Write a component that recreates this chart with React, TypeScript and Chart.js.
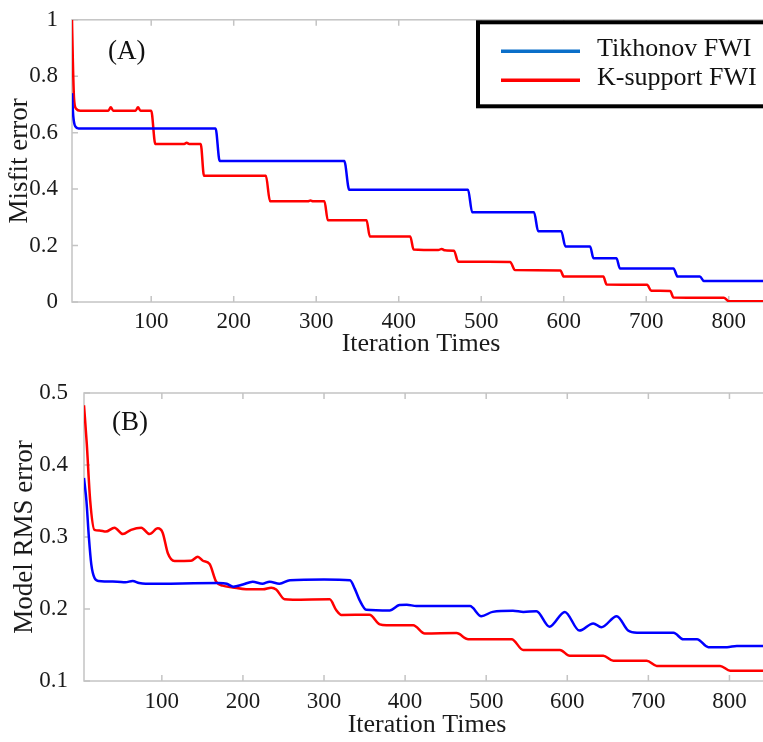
import React, { useEffect, useRef } from 'react';
import { Chart, registerables } from 'chart.js';

Chart.register(...registerables);

// ---------- data ----------
const seriesNames = ['Tikhonov FWI', 'K-support FWI'];
const xTicks = [100, 200, 300, 400, 500, 600, 700, 800];
const yTicksA = [0, 0.2, 0.4, 0.6, 0.8, 1];
const yTicksB = [0.1, 0.2, 0.3, 0.4, 0.5];

// (A) Misfit error
const tikhonovMisfitX = [4, 5.5, 8, 12, 178, 183, 334, 340, 484, 489, 564, 569, 597, 602, 632, 636, 664, 668, 733, 738, 765, 770, 850];
const tikhonovMisfitY = [0.74, 0.66, 0.622, 0.615, 0.615, 0.5, 0.5, 0.398, 0.398, 0.318, 0.318, 0.251, 0.251, 0.197, 0.197, 0.155, 0.155, 0.119, 0.119, 0.09, 0.09, 0.074, 0.074];

const ksupportMisfitX = [4, 5, 6.5, 9, 14, 48, 51, 54, 81, 84, 87, 100, 105, 140, 143, 146, 160, 164, 239, 244, 290, 293, 296, 310, 314, 361, 365, 414, 418, 448, 452, 456, 467, 472, 535, 541, 596, 600, 648, 652, 701, 706, 729, 733, 794, 800, 850];
const ksupportMisfitY = [1.0, 0.86, 0.72, 0.685, 0.678, 0.678, 0.69, 0.678, 0.678, 0.69, 0.678, 0.678, 0.56, 0.56, 0.564, 0.56, 0.56, 0.447, 0.447, 0.357, 0.357, 0.36, 0.357, 0.357, 0.29, 0.29, 0.232, 0.232, 0.186, 0.184, 0.188, 0.183, 0.182, 0.143, 0.142, 0.113, 0.112, 0.09, 0.09, 0.062, 0.061, 0.04, 0.039, 0.016, 0.015, 0.003, 0.003];

// (B) Model RMS error
const tikhonovRmsX = [4, 7, 10, 13, 17, 22, 45, 55, 64, 72, 80, 170, 180, 188, 200, 212, 224, 233, 245, 258, 300, 332, 338, 344, 352, 381, 393, 402, 414, 480, 494, 508, 533, 546, 562, 578, 597, 615, 632, 642, 661, 675, 686, 731, 743, 760, 774, 797, 809, 850];
const tikhonovRmsY = [0.382, 0.35, 0.3, 0.262, 0.243, 0.239, 0.238, 0.237, 0.239, 0.236, 0.235, 0.236, 0.235, 0.231, 0.234, 0.238, 0.235, 0.238, 0.235, 0.24, 0.241, 0.24, 0.228, 0.212, 0.199, 0.198, 0.2055, 0.206, 0.204, 0.204, 0.19, 0.196, 0.1975, 0.196, 0.197, 0.1755, 0.196, 0.17, 0.18, 0.1746, 0.19, 0.17, 0.167, 0.167, 0.158, 0.158, 0.147, 0.147, 0.1486, 0.1486];

const ksupportRmsX = [4, 7.4, 11.6, 16.9, 23, 31, 41.6, 51.9, 62, 74.6, 84.8, 95, 101, 107.4, 115.6, 136, 144.4, 150.6, 158.9, 167, 175, 187.6, 204, 224.7, 235, 241, 251.5, 261.7, 307, 315, 321.4, 356, 368.8, 377, 410, 424.3, 463.4, 477.8, 531.4, 545.7, 591, 603, 644.4, 656.8, 698, 710.3, 788.5, 800.9, 850];
const ksupportRmsY = [0.483, 0.43, 0.351, 0.31, 0.309, 0.3075, 0.313, 0.304, 0.31, 0.313, 0.304, 0.312, 0.306, 0.2774, 0.2667, 0.267, 0.2726, 0.267, 0.2625, 0.238, 0.2324, 0.23, 0.2274, 0.2274, 0.2296, 0.227, 0.2135, 0.213, 0.2135, 0.1986, 0.1917, 0.192, 0.1787, 0.1775, 0.1775, 0.166, 0.1665, 0.158, 0.158, 0.143, 0.143, 0.135, 0.135, 0.128, 0.128, 0.121, 0.121, 0.1143, 0.1143];

const lineColors = ['#0000ff', '#ff0000'];
const legendColors = ['#0b6fc9', '#ff0000'];

const FONT = '"Liberation Serif", "Times New Roman", serif';

// ---------- plugins ----------
const framePlugin = {
  id: 'matlabFrame',
  beforeDatasetsDraw(chart: any) {
    const { ctx, chartArea: a, scales } = chart;
    ctx.save();
    ctx.strokeStyle = '#c4c4c4';
    ctx.lineWidth = 1.5;
    ctx.strokeRect(a.left, a.top, a.right - a.left, a.bottom - a.top);
    const L = 6;
    ctx.beginPath();
    scales.x.ticks.forEach((t: any) => {
      const px = scales.x.getPixelForValue(t.value);
      ctx.moveTo(px, a.bottom);
      ctx.lineTo(px, a.bottom - L);
      ctx.moveTo(px, a.top);
      ctx.lineTo(px, a.top + L);
    });
    scales.y.ticks.forEach((t: any) => {
      const py = scales.y.getPixelForValue(t.value);
      ctx.moveTo(a.left, py);
      ctx.lineTo(a.left + L, py);
      ctx.moveTo(a.right, py);
      ctx.lineTo(a.right - L, py);
    });
    ctx.stroke();
    ctx.restore();
  },
};

function makePanelLabel(text: string, dx: number, dy: number) {
  return {
    id: 'panelLabel',
    afterDatasetsDraw(chart: any) {
      const { ctx, chartArea: a } = chart;
      ctx.save();
      ctx.fillStyle = '#111';
      ctx.font = `27px ${FONT}`;
      ctx.textAlign = 'left';
      ctx.textBaseline = 'middle';
      ctx.fillText(text, a.left + dx, a.top + dy);
      ctx.restore();
    },
  };
}

const boxLegendPlugin = {
  id: 'boxLegend',
  afterDatasetsDraw(chart: any) {
    const { ctx, chartArea: a } = chart;
    const left = 478;
    const top = a.top + 2.5;
    ctx.save();
    ctx.fillStyle = '#ffffff';
    ctx.fillRect(left, top, 340, 84);
    ctx.strokeStyle = '#000';
    ctx.lineWidth = 4;
    ctx.strokeRect(left, top, 340, 84);
    chart.data.datasets.forEach((ds: any, i: number) => {
      const y = top + 29 + i * 29;
      ctx.strokeStyle = legendColors[i];
      ctx.lineWidth = 3.5;
      ctx.beginPath();
      ctx.moveTo(left + 23, y);
      ctx.lineTo(left + 102, y);
      ctx.stroke();
      ctx.fillStyle = '#111';
      ctx.font = `26px ${FONT}`;
      ctx.textAlign = 'left';
      ctx.textBaseline = 'middle';
      ctx.fillText(ds.label, left + 119, y - 2);
    });
    ctx.restore();
  },
};

type PanelOpts = {
  xs: number[][];
  ys: number[][];
  yMin: number;
  yMax: number;
  yTicks: number[];
  yTitle: string;
  yWidth: number;
  xHeight: number;
  top: number;
  xTickPad: number;
  yTickPad: number;
  yTitlePad: number;
  xTitlePadBottom: number;
  plugins: any[];
};

function makeConfig(p: PanelOpts): any {
  return {
    type: 'line',
    data: {
      datasets: p.xs.map((xArr, i) => ({
        label: seriesNames[i],
        data: xArr.map((x, j) => ({ x, y: p.ys[i][j] })),
        borderColor: lineColors[i],
        backgroundColor: lineColors[i],
        borderWidth: 2.5,
        pointRadius: 0,
        cubicInterpolationMode: 'monotone',
        fill: false,
      })),
    },
    options: {
      animation: false,
      responsive: false,
      events: [],
      layout: { padding: { top: p.top, left: 0, right: 10, bottom: 0 } },
      plugins: { legend: { display: false }, tooltip: { enabled: false }, title: { display: false } },
      scales: {
        x: {
          type: 'linear',
          min: 4,
          max: 850,
          grid: { display: false },
          border: { display: false },
          afterBuildTicks: (scale: any) => {
            scale.ticks = xTicks.map((v) => ({ value: v }));
          },
          afterFit: (scale: any) => {
            scale.height = p.xHeight;
          },
          ticks: {
            padding: p.xTickPad,
            maxRotation: 0,
            autoSkip: false,
            color: '#1a1a1a',
            font: { family: FONT, size: 23 },
            callback: (v: any) => String(v),
          },
          title: {
            display: true,
            text: 'Iteration Times',
            color: '#1a1a1a',
            font: { family: FONT, size: 26 },
            padding: { top: 0, bottom: p.xTitlePadBottom },
          },
        },
        y: {
          type: 'linear',
          min: p.yMin,
          max: p.yMax,
          grid: { display: false },
          border: { display: false },
          afterBuildTicks: (scale: any) => {
            scale.ticks = p.yTicks.map((v) => ({ value: v }));
          },
          afterFit: (scale: any) => {
            scale.width = p.yWidth;
          },
          ticks: {
            padding: p.yTickPad,
            autoSkip: false,
            color: '#1a1a1a',
            font: { family: FONT, size: 23 },
            callback: (v: any) => String(Math.round(Number(v) * 10) / 10),
          },
          title: {
            display: true,
            text: p.yTitle,
            color: '#1a1a1a',
            font: { family: FONT, size: 27 },
            padding: { top: p.yTitlePad, bottom: 0 },
          },
        },
      },
    },
    plugins: p.plugins,
  };
}

export default function App() {
  const refA = useRef<HTMLCanvasElement>(null);
  const refB = useRef<HTMLCanvasElement>(null);

  useEffect(() => {
    const chartA = new Chart(
      refA.current as HTMLCanvasElement,
      makeConfig({
        xs: [tikhonovMisfitX, ksupportMisfitX],
        ys: [tikhonovMisfitY, ksupportMisfitY],
        yMin: 0,
        yMax: 1,
        yTicks: yTicksA,
        yTitle: 'Misfit error',
        yWidth: 72,
        xHeight: 58,
        top: 13,
        xTickPad: -2,
        yTickPad: 6,
        yTitlePad: 4,
        xTitlePadBottom: 0,
        plugins: [framePlugin, makePanelLabel('(A)', 36, 32), boxLegendPlugin],
      })
    );
    const chartB = new Chart(
      refB.current as HTMLCanvasElement,
      makeConfig({
        xs: [tikhonovRmsX, ksupportRmsX],
        ys: [tikhonovRmsY, ksupportRmsY],
        yMin: 0.1,
        yMax: 0.5,
        yTicks: yTicksB,
        yTitle: 'Model RMS error',
        yWidth: 84,
        xHeight: 61,
        top: 33,
        xTickPad: -1,
        yTickPad: 8,
        yTitlePad: 9,
        xTitlePadBottom: 1.5,
        plugins: [framePlugin, makePanelLabel('(B)', 28, 30)],
      })
    );
    return () => {
      chartA.destroy();
      chartB.destroy();
    };
  }, []);

  return (
    <div
      style={{
        position: 'absolute',
        left: 0,
        top: 0,
        width: 763,
        height: 742,
        overflow: 'hidden',
        background: '#ffffff',
      }}
    >
      <canvas ref={refA} width={780} height={360} style={{ position: 'absolute', left: 0, top: 0 }} />
      <canvas ref={refB} width={780} height={382} style={{ position: 'absolute', left: 0, top: 360 }} />
    </div>
  );
}
